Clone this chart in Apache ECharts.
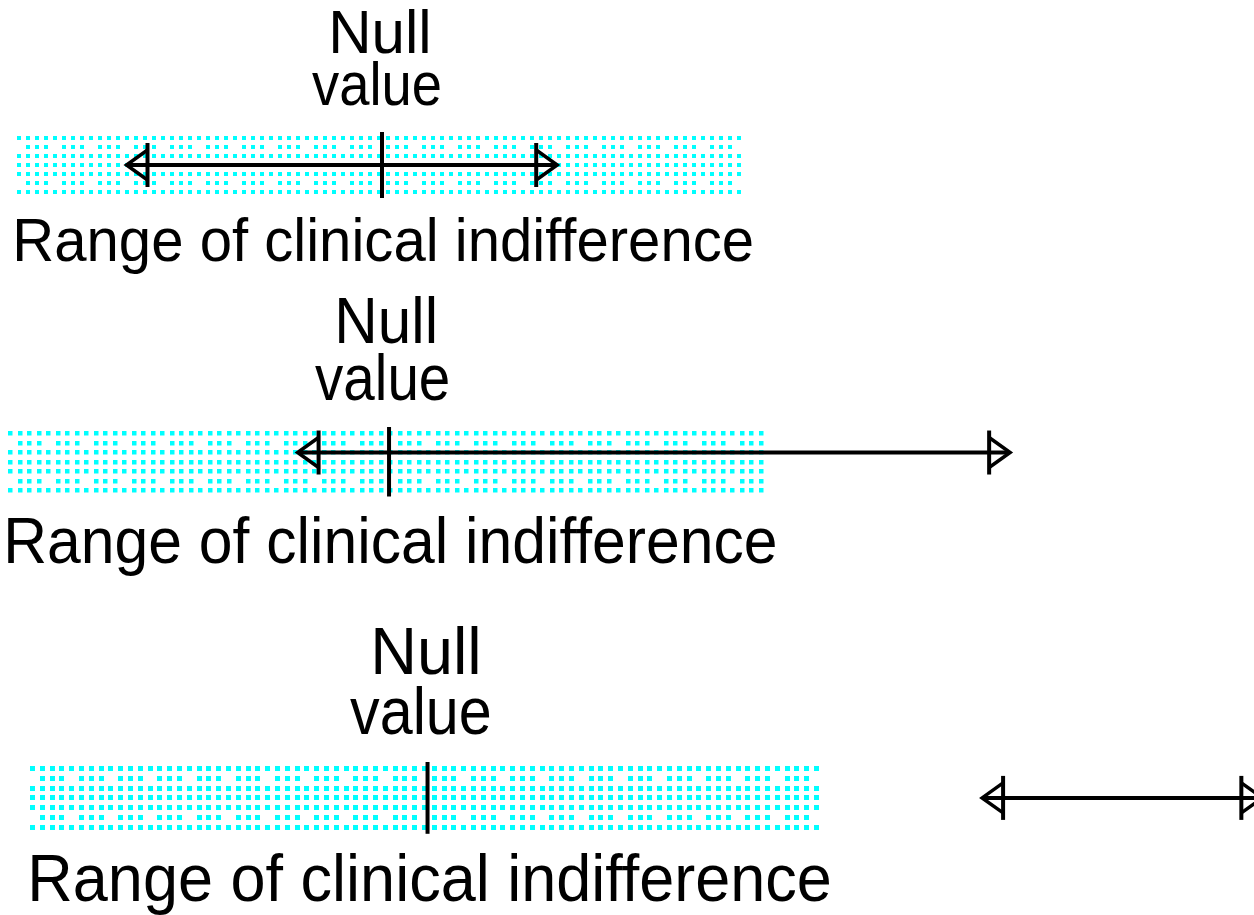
<!DOCTYPE html>
<html><head><meta charset="utf-8">
<script src="https://cdn.jsdelivr.net/npm/echarts@6/dist/echarts.min.js"></script>
<style>html,body{margin:0;padding:0;background:#fff}#c{width:1254px;height:915px}</style>
</head><body><div id="c"></div><script>
// ---- data ----
const panels = ['Panel 1', 'Panel 2', 'Panel 3'];
const nullValues = [0, 0, 0];
const indifferenceLower = [-1, -1, -1];
const indifferenceUpper = [1, 1, 1];
const ciLower = [-0.70, -0.24, 1.395];
const ciUpper = [0.48, 1.63, 2.10];
const ciLevel = [0.5, 0.65, 0.5];          // vertical place of the interval inside the band (0 bottom, 1 top)
const nullLabelLines = ['Null', 'value'];
const rangeLabel = 'Range of clinical indifference';

// ---- layout / style ----
const layout = [
  { top: 136, step: 9.0, dot: 4, xMin: -1.0466, xMax: 2.389, font: 61.5,
    nullBox: [-49, 46], valueBox: [-70, 58], rangeBox: [0, 735],
    nullBase: -82, valueBase: -30, rangeBase: 68 },
  { top: 431, step: 9.5, dot: 4.5, xMin: -1.021, xMax: 2.270, font: 64,
    nullBox: [-50, 45], valueBox: [-74, 59], rangeBox: [0, 767],
    nullBase: -87, valueBase: -30, rangeBase: 71 },
  { top: 766, step: 9.8, dot: 5, xMin: -1.0755, xMax: 2.079, font: 66.5,
    nullBox: [-52.5, 50.5], valueBox: [-77.5, 62.5], rangeBox: [2, 800],
    nullBase: -91, valueBase: -31, rangeBase: 72 }
];
const FONT = '"Liberation Sans", Arial, sans-serif';
const CYAN = '#00ffff';

const mctx = document.createElement('canvas').getContext('2d');
function fitText(text, size, anchor, box, baseline) {
  mctx.font = size + 'px ' + FONT;
  const m = mctx.measureText(text);
  const ink = m.actualBoundingBoxRight + m.actualBoundingBoxLeft;
  const s = (box[1] - box[0]) / ink;
  return {
    type: 'text',
    x: anchor + box[0] + m.actualBoundingBoxLeft * s,
    y: baseline - 0.285 * size,
    scaleX: s,
    style: { text: text, fontSize: size, fontFamily: FONT, fill: '#000',
             align: 'left', verticalAlign: 'middle' },
    silent: true
  };
}

function arrowHead(tip, y, dir) {
  // dir = -1: head at the left end; +1: head at the right end
  const bar = tip - dir * 21;
  return [
    { type: 'rect', shape: { x: bar - 2, y: y - 22, width: 4, height: 44 }, style: { fill: '#000' } },
    { type: 'polyline', shape: { points: [[bar, y - 15], [tip, y], [bar, y + 15]] },
      style: { stroke: '#000', lineWidth: 3.5, fill: null } }
  ];
}

function makeRender(i) {
  const L = layout[i];
  return function (params, api) {
    const lo = api.value(0), hi = api.value(1);
    const cl = api.value(2), cu = api.value(3), nv = api.value(4), lvl = api.value(5);
    const tl = api.coord([lo, 1]);
    const br = api.coord([hi, 0]);
    const children = [];
    // dotted band
    const w = br[0] - tl[0];
    const ncol = Math.floor((w - L.dot) / L.step) + 1;
    for (let r = 0; r < 7; r++) {
      for (let c = 0; c < ncol; c++) {
        if (r % 4 === 1 && c % 4 === 0) continue;
        children.push({ type: 'rect',
          shape: { x: Math.round(tl[0] + c * L.step), y: Math.round(tl[1] + r * L.step), width: L.dot, height: L.dot },
          style: { fill: CYAN } });
      }
    }
    // null value line
    const nx = api.coord([nv, 0])[0];
    children.push({ type: 'rect', shape: { x: nx - 2, y: tl[1] - 4, width: 4, height: br[1] - tl[1] + 8 }, style: { fill: '#000' } });
    // confidence interval
    const y = api.coord([0, lvl])[1];
    const x1 = api.coord([cl, lvl])[0], x2 = api.coord([cu, lvl])[0];
    children.push({ type: 'line', shape: { x1: x1 + 2, y1: y, x2: x2 - 2, y2: y }, style: { stroke: '#000', lineWidth: 4 } });
    children.push(...arrowHead(x1, y, -1));
    children.push(...arrowHead(x2, y, 1));
    // labels
    children.push(fitText(nullLabelLines[0], L.font, nx, L.nullBox, tl[1] + L.nullBase));
    children.push(fitText(nullLabelLines[1], L.font, nx, L.valueBox, tl[1] + L.valueBase));
    children.push(fitText(rangeLabel, L.font, tl[0], L.rangeBox, br[1] + L.rangeBase));
    return { type: 'group', children: children };
  };
}

const grids = [], xAxes = [], yAxes = [], series = [];
panels.forEach((p, i) => {
  const L = layout[i];
  grids.push({ left: 0, right: 0, top: L.top, height: 6 * L.step + L.dot, containLabel: false });
  xAxes.push({ type: 'value', gridIndex: i, min: L.xMin, max: L.xMax, show: false });
  yAxes.push({ type: 'value', gridIndex: i, min: 0, max: 1, show: false });
  series.push({
    type: 'custom', name: p, xAxisIndex: i, yAxisIndex: i, clip: false,
    renderItem: makeRender(i),
    data: [[indifferenceLower[i], indifferenceUpper[i], ciLower[i], ciUpper[i], nullValues[i], ciLevel[i]]]
  });
});

const chart = echarts.init(document.getElementById('c'), null, { renderer: 'canvas' });
chart.setOption({
  backgroundColor: '#fff',
  animation: false,
  grid: grids, xAxis: xAxes, yAxis: yAxes, series: series
});
</script></body></html>
